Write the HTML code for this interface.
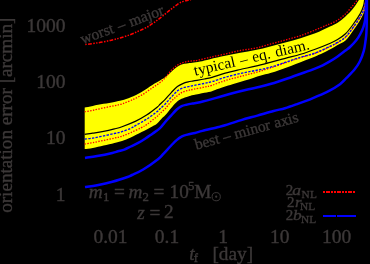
<!DOCTYPE html>
<html><head><meta charset="utf-8"><title>chart</title>
<style>
html,body{margin:0;padding:0;background:#000;}
body{width:370px;height:264px;overflow:hidden;}
svg{display:block;will-change:transform;}
text{font-family:"Liberation Serif",serif;fill:#3c3838;stroke:#3c3838;stroke-width:0.36px;}
.i{font-style:italic;}
</style></head><body>
<svg width="370" height="264" viewBox="0 0 370 264">
<rect width="370" height="264" fill="#000"/>
<path d="M84.70,107.40 C86.05,107.15 89.65,106.50 92.80,105.90 C95.95,105.30 100.00,104.47 103.60,103.80 C107.20,103.13 111.33,102.48 114.40,101.90 C117.47,101.32 119.27,101.07 122.00,100.30 C124.73,99.53 127.53,98.70 130.80,97.30 C134.07,95.90 138.00,93.97 141.60,91.90 C145.20,89.83 149.33,86.78 152.40,84.90 C155.47,83.02 157.83,81.90 160.00,80.60 C162.17,79.30 163.60,78.50 165.40,77.10 C167.20,75.70 169.00,73.82 170.80,72.20 C172.60,70.58 174.40,68.70 176.20,67.40 C178.00,66.10 179.80,65.07 181.60,64.40 C183.40,63.73 185.20,63.68 187.00,63.40 C188.80,63.12 190.23,63.00 192.40,62.70 C194.57,62.40 197.07,62.18 200.00,61.60 C202.93,61.02 205.80,60.17 210.00,59.20 C214.20,58.23 220.15,56.87 225.20,55.80 C230.25,54.73 235.25,53.77 240.30,52.80 C245.35,51.83 250.52,51.07 255.50,50.00 C260.48,48.93 265.23,47.67 270.20,46.40 C275.17,45.13 280.25,43.77 285.30,42.40 C290.35,41.03 295.52,39.72 300.50,38.20 C305.48,36.68 310.28,35.25 315.20,33.30 C320.12,31.35 326.27,28.27 330.00,26.50 C333.73,24.73 335.07,24.33 337.60,22.70 C340.13,21.07 342.68,18.97 345.20,16.70 C347.72,14.43 350.57,11.63 352.70,9.10 C354.83,6.57 356.87,3.18 358.00,1.50 C359.13,-0.18 359.25,-0.58 359.50,-1.00 L366.70,-1.00 C366.65,-0.50 366.72,0.17 366.40,2.00 C366.08,3.83 365.73,7.17 364.80,10.00 C363.87,12.83 362.73,15.58 360.80,19.00 C358.87,22.42 355.75,26.92 353.20,30.50 C350.65,34.08 348.10,38.08 345.50,40.50 C342.90,42.92 340.13,43.55 337.60,45.00 C335.07,46.45 334.03,47.28 330.30,49.20 C326.57,51.12 319.65,54.55 315.20,56.50 C310.75,58.45 308.23,59.12 303.60,60.90 C298.97,62.68 292.80,65.22 287.40,67.20 C282.00,69.18 275.77,71.37 271.20,72.80 C266.63,74.23 263.77,74.68 260.00,75.80 C256.23,76.92 253.18,78.08 248.60,79.50 C244.02,80.92 237.90,82.63 232.50,84.30 C227.10,85.97 219.62,88.35 216.20,89.50 C212.78,90.65 213.97,90.65 212.00,91.20 C210.03,91.75 207.47,92.15 204.40,92.80 C201.33,93.45 196.30,94.50 193.60,95.10 C190.90,95.70 190.20,95.78 188.20,96.40 C186.20,97.02 183.60,97.80 181.60,98.80 C179.60,99.80 178.00,100.80 176.20,102.40 C174.40,104.00 172.63,106.25 170.80,108.40 C168.97,110.55 166.63,113.70 165.20,115.30 C163.77,116.90 163.50,116.68 162.20,118.00 C160.90,119.32 159.07,121.78 157.40,123.20 C155.73,124.62 154.83,125.02 152.20,126.50 C149.57,127.98 145.17,130.27 141.60,132.10 C138.03,133.93 134.07,136.03 130.80,137.50 C127.53,138.97 124.73,140.00 122.00,140.90 C119.27,141.80 117.47,142.12 114.40,142.90 C111.33,143.68 107.20,144.75 103.60,145.60 C100.00,146.45 95.95,147.42 92.80,148.00 C89.65,148.58 86.05,148.92 84.70,149.10 Z" fill="#ffff00" stroke="none"/>
<path d="M84.70,134.30 C86.05,134.12 89.65,133.68 92.80,133.20 C95.95,132.72 100.00,132.12 103.60,131.40 C107.20,130.68 111.33,129.68 114.40,128.90 C117.47,128.12 118.43,128.00 122.00,126.70 C125.57,125.40 131.70,123.03 135.80,121.10 C139.90,119.17 143.00,117.45 146.60,115.10 C150.20,112.75 155.17,108.80 157.40,107.00 C159.63,105.20 158.70,105.58 160.00,104.30 C161.30,103.02 163.28,101.30 165.20,99.30 C167.12,97.30 169.47,94.42 171.50,92.30 C173.53,90.18 175.52,88.05 177.40,86.60 C179.28,85.15 181.00,84.38 182.80,83.60 C184.60,82.82 186.40,82.35 188.20,81.90 C190.00,81.45 190.90,81.38 193.60,80.90 C196.30,80.42 201.33,79.60 204.40,79.00 C207.47,78.40 208.53,78.28 212.00,77.30 C215.47,76.32 220.48,74.40 225.20,73.10 C229.92,71.80 235.25,70.65 240.30,69.50 C245.35,68.35 250.52,67.38 255.50,66.20 C260.48,65.02 265.23,63.72 270.20,62.40 C275.17,61.08 280.25,59.65 285.30,58.30 C290.35,56.95 295.52,55.82 300.50,54.30 C305.48,52.78 310.23,51.05 315.20,49.20 C320.17,47.35 326.57,44.82 330.30,43.20 C334.03,41.58 335.07,41.08 337.60,39.50 C340.13,37.92 342.98,36.12 345.50,33.70 C348.02,31.28 350.23,28.35 352.70,25.00 C355.17,21.65 358.50,16.77 360.30,13.60 C362.10,10.43 362.75,8.43 363.50,6.00 C364.25,3.57 364.58,0.17 364.80,-1.00" fill="none" stroke="#000" stroke-width="1.2"/>
<path d="M84.70,111.70 C86.05,111.47 89.65,110.93 92.80,110.30 C95.95,109.67 100.00,108.67 103.60,107.90 C107.20,107.13 111.33,106.37 114.40,105.70 C117.47,105.03 119.27,104.77 122.00,103.90 C124.73,103.03 127.53,101.97 130.80,100.50 C134.07,99.03 138.00,97.22 141.60,95.10 C145.20,92.98 149.33,89.88 152.40,87.80 C155.47,85.72 157.83,84.30 160.00,82.60 C162.17,80.90 163.60,79.57 165.40,77.60 C167.20,75.63 169.00,72.73 170.80,70.80 C172.60,68.87 174.40,67.28 176.20,66.00 C178.00,64.72 179.80,63.83 181.60,63.10 C183.40,62.37 185.20,61.97 187.00,61.60 C188.80,61.23 190.60,61.13 192.40,60.90 C194.20,60.67 194.87,60.80 197.80,60.20 C200.73,59.60 205.43,58.33 210.00,57.30 C214.57,56.27 220.15,55.13 225.20,54.00 C230.25,52.87 235.25,51.48 240.30,50.50 C245.35,49.52 250.52,49.17 255.50,48.10 C260.48,47.03 265.23,45.45 270.20,44.10 C275.17,42.75 280.25,41.40 285.30,40.00 C290.35,38.60 295.52,37.37 300.50,35.70 C305.48,34.03 310.98,31.70 315.20,30.00 C319.42,28.30 323.33,26.52 325.80,25.50 C328.27,24.48 328.03,24.78 330.00,23.90 C331.97,23.02 335.07,21.83 337.60,20.20 C340.13,18.57 342.68,16.52 345.20,14.10 C347.72,11.68 350.82,7.85 352.70,5.70 C354.58,3.55 355.70,2.37 356.50,1.20 C357.30,0.03 357.33,-0.88 357.50,-1.30" fill="none" stroke="#ff0000" stroke-width="1.3" stroke-dasharray="1.4,1.4"/>
<path d="M84.70,144.00 C86.05,143.77 89.65,143.20 92.80,142.60 C95.95,142.00 100.00,141.15 103.60,140.40 C107.20,139.65 111.33,138.80 114.40,138.10 C117.47,137.40 119.27,137.12 122.00,136.20 C124.73,135.28 127.57,134.03 130.80,132.60 C134.03,131.17 138.73,128.95 141.40,127.60 C144.07,126.25 144.13,126.40 146.80,124.50 C149.47,122.60 155.20,118.03 157.40,116.20 C159.60,114.37 158.70,114.73 160.00,113.50 C161.30,112.27 163.40,110.73 165.20,108.80 C167.00,106.87 168.97,103.92 170.80,101.90 C172.63,99.88 174.30,98.30 176.20,96.70 C178.10,95.10 180.20,93.35 182.20,92.30 C184.20,91.25 186.30,90.90 188.20,90.40 C190.10,89.90 190.90,89.85 193.60,89.30 C196.30,88.75 201.33,87.77 204.40,87.10 C207.47,86.43 208.53,86.38 212.00,85.30 C215.47,84.22 220.48,82.07 225.20,80.60 C229.92,79.13 235.25,77.85 240.30,76.50 C245.35,75.15 250.52,73.92 255.50,72.50 C260.48,71.08 265.23,69.62 270.20,68.00 C275.17,66.38 280.25,64.53 285.30,62.80 C290.35,61.07 295.52,59.18 300.50,57.60 C305.48,56.02 310.23,55.13 315.20,53.30 C320.17,51.47 326.57,48.37 330.30,46.60 C334.03,44.83 335.07,44.25 337.60,42.70 C340.13,41.15 342.98,39.70 345.50,37.30 C348.02,34.90 350.23,31.68 352.70,28.30 C355.17,24.92 358.42,20.15 360.30,17.00 C362.18,13.85 363.12,11.93 364.00,9.40 C364.88,6.87 365.28,3.53 365.60,1.80 C365.92,0.07 365.85,-0.53 365.90,-1.00" fill="none" stroke="#ff0000" stroke-width="1.3" stroke-dasharray="1.4,1.4"/>
<path d="M84.70,139.10 C86.05,138.93 89.65,138.63 92.80,138.10 C95.95,137.57 100.00,136.67 103.60,135.90 C107.20,135.13 111.33,134.22 114.40,133.50 C117.47,132.78 119.27,132.47 122.00,131.60 C124.73,130.73 128.50,129.33 130.80,128.30 C133.10,127.27 133.17,126.92 135.80,125.40 C138.43,123.88 143.00,121.53 146.60,119.20 C150.20,116.87 155.17,113.13 157.40,111.40 C159.63,109.67 158.70,110.03 160.00,108.80 C161.30,107.57 163.30,105.97 165.20,104.00 C167.10,102.03 169.37,99.18 171.40,97.00 C173.43,94.82 175.50,92.40 177.40,90.90 C179.30,89.40 181.00,88.72 182.80,88.00 C184.60,87.28 186.40,87.02 188.20,86.60 C190.00,86.18 190.90,86.03 193.60,85.50 C196.30,84.97 201.33,84.05 204.40,83.40 C207.47,82.75 208.53,82.62 212.00,81.60 C215.47,80.58 220.48,78.65 225.20,77.30 C229.92,75.95 235.25,74.63 240.30,73.50 C245.35,72.37 250.52,71.53 255.50,70.50 C260.48,69.47 265.23,68.67 270.20,67.30 C275.17,65.93 280.25,63.97 285.30,62.30 C290.35,60.63 295.52,58.85 300.50,57.30 C305.48,55.75 310.23,54.85 315.20,53.00 C320.17,51.15 326.57,47.98 330.30,46.20 C334.03,44.42 335.07,43.83 337.60,42.30 C340.13,40.77 342.98,39.38 345.50,37.00 C348.02,34.62 350.23,31.38 352.70,28.00 C355.17,24.62 358.42,19.85 360.30,16.70 C362.18,13.55 363.12,11.63 364.00,9.10 C364.88,6.57 365.28,3.18 365.60,1.50 C365.92,-0.18 365.85,-0.58 365.90,-1.00" fill="none" stroke="#0000ff" stroke-width="1.35" stroke-dasharray="2.4,1.3"/>
<path d="M85.00,157.90 C87.03,157.60 92.65,156.92 97.20,156.10 C101.75,155.28 108.83,153.80 112.30,153.00 C115.77,152.20 115.98,151.87 118.00,151.30 C120.02,150.73 122.27,150.40 124.40,149.60 C126.53,148.80 127.93,147.93 130.80,146.50 C133.67,145.07 138.00,143.13 141.60,141.00 C145.20,138.87 149.33,135.83 152.40,133.70 C155.47,131.57 157.90,130.12 160.00,128.20 C162.10,126.28 163.20,124.25 165.00,122.20 C166.80,120.15 168.93,117.93 170.80,115.90 C172.67,113.87 174.40,111.62 176.20,110.00 C178.00,108.38 179.80,107.10 181.60,106.20 C183.40,105.30 185.20,105.05 187.00,104.60 C188.80,104.15 190.23,103.90 192.40,103.50 C194.57,103.10 196.03,103.13 200.00,102.20 C203.97,101.27 210.80,99.40 216.20,97.90 C221.60,96.40 227.00,94.65 232.40,93.20 C237.80,91.75 244.00,90.27 248.60,89.20 C253.20,88.13 256.23,87.70 260.00,86.80 C263.77,85.90 266.63,85.18 271.20,83.80 C275.77,82.42 282.00,80.33 287.40,78.50 C292.80,76.67 299.00,74.45 303.60,72.80 C308.20,71.15 311.82,69.85 315.00,68.60 C318.18,67.35 320.15,66.53 322.70,65.30 C325.25,64.07 327.82,62.67 330.30,61.20 C332.78,59.73 335.07,58.28 337.60,56.50 C340.13,54.72 343.43,52.08 345.50,50.50 C347.57,48.92 348.17,48.75 350.00,47.00 C351.83,45.25 354.78,42.17 356.50,40.00 C358.22,37.83 359.17,36.12 360.30,34.00 C361.43,31.88 362.48,29.68 363.30,27.30 C364.12,24.92 364.75,22.75 365.20,19.70 C365.65,16.65 365.82,12.45 366.00,9.00 C366.18,5.55 366.25,0.67 366.30,-1.00" fill="none" stroke="#0000ff" stroke-width="2.5"/>
<path d="M85.00,187.10 C87.03,186.78 92.65,186.08 97.20,185.20 C101.75,184.32 107.25,183.17 112.30,181.80 C117.35,180.43 124.22,178.13 127.50,177.00 C130.78,175.87 129.38,176.25 132.00,175.00 C134.62,173.75 138.82,172.18 143.20,169.50 C147.58,166.82 154.90,161.55 158.30,158.90 C161.70,156.25 161.45,155.83 163.60,153.60 C165.75,151.37 169.03,147.75 171.20,145.50 C173.37,143.25 174.80,141.63 176.60,140.10 C178.40,138.57 180.20,137.22 182.00,136.30 C183.80,135.38 185.23,135.15 187.40,134.60 C189.57,134.05 192.50,133.62 195.00,133.00 C197.50,132.38 198.47,131.90 202.40,130.90 C206.33,129.90 214.83,127.95 218.60,127.00 C222.37,126.05 221.23,126.35 225.00,125.20 C228.77,124.05 235.80,121.70 241.20,120.10 C246.60,118.50 252.00,117.12 257.40,115.60 C262.80,114.08 269.00,112.23 273.60,111.00 C278.20,109.77 281.23,109.30 285.00,108.20 C288.77,107.10 291.63,106.05 296.20,104.40 C300.77,102.75 307.00,100.52 312.40,98.30 C317.80,96.08 324.00,93.45 328.60,91.10 C333.20,88.75 337.02,86.40 340.00,84.20 C342.98,82.00 344.08,80.35 346.50,77.90 C348.92,75.45 352.28,72.23 354.50,69.50 C356.72,66.77 358.25,64.60 359.80,61.50 C361.35,58.40 362.83,54.43 363.80,50.90 C364.77,47.37 365.17,43.28 365.60,40.30 C366.03,37.32 366.20,36.38 366.40,33.00 C366.60,29.62 366.72,25.67 366.80,20.00 C366.88,14.33 366.88,2.50 366.90,-1.00" fill="none" stroke="#0000ff" stroke-width="2.5"/>
<path d="M85.30,44.50 C87.42,44.22 93.82,43.48 98.00,42.80 C102.18,42.12 106.73,41.20 110.40,40.40 C114.07,39.60 116.73,38.93 120.00,38.00 C123.27,37.07 126.98,35.92 130.00,34.80 C133.02,33.68 135.40,32.50 138.10,31.30 C140.80,30.10 143.50,29.08 146.20,27.60 C148.90,26.12 151.60,24.30 154.30,22.40 C157.00,20.50 159.70,18.32 162.40,16.20 C165.10,14.08 167.80,11.80 170.50,9.70 C173.20,7.60 176.43,5.00 178.60,3.60 C180.77,2.20 181.88,1.85 183.50,1.30 C185.12,0.75 187.05,0.55 188.30,0.30 C189.55,0.05 190.55,-0.12 191.00,-0.20" fill="none" stroke="#ff0000" stroke-width="1.5" stroke-dasharray="3.7,1.4,1.5,1.35,1.5,1.35" stroke-dashoffset="7.95"/>

<!-- y tick labels -->
<g font-size="19.5" text-anchor="end">
<text x="65.6" y="31.6">1000</text>
<text x="65.6" y="88">100</text>
<text x="65.6" y="144.4">10</text>
<text x="65.6" y="200.7">1</text>
</g>
<!-- x tick labels -->
<g font-size="19.5" text-anchor="middle">
<text x="110.5" y="242.6">0.01</text>
<text x="167" y="242.6">0.1</text>
<text x="223.2" y="242.6">1</text>
<text x="279.7" y="242.6">10</text>
<text x="336.5" y="242.6">100</text>
</g>
<text transform="translate(12.2,212.8) rotate(-90)" font-size="19.12">orientation error [arcmin]</text>
<text x="189.2" y="260" font-size="19.3" class="i">t</text>
<text x="193.8" y="261.7" font-size="12.8">f</text>
<text x="212.4" y="260" font-size="19.3">[day]</text>
<g font-size="19.3">
<text x="88.8" y="197.5" class="i">m</text>
<text x="103" y="201" font-size="12.8">1</text>
<text x="113.9" y="197.5">=</text>
<text x="128.5" y="197.5" class="i">m</text>
<text x="142.6" y="201" font-size="12.8">2</text>
<text x="153.4" y="197.5">=</text>
<text x="169.5" y="197.7">10</text>
<text x="188" y="190.4" font-size="12.8">5</text>
<text x="194.2" y="197.7">M</text>
<text x="137.3" y="218.6" class="i">z</text>
<text x="149.4" y="218.6">=</text>
<text x="164" y="218">2</text>
</g>
<circle cx="216.2" cy="196.7" r="4.1" fill="none" stroke="#3c3838" stroke-width="1"/>
<circle cx="216.2" cy="196.7" r="1.1" fill="#3c3838"/>

<!-- legend -->
<g font-size="15">
<text x="285.7" y="195.1">2</text>
<text transform="translate(292.2,195.1) scale(1.18,1)" class="i">a</text>
<text x="301.6" y="197.7" font-size="11.3" letter-spacing="0.2">NL</text>
<text x="287" y="207.4">2</text>
<text transform="translate(295.1,207.4) scale(1.12,1)" class="i">r</text>
<text x="300" y="210" font-size="11.3" letter-spacing="0.2">NL</text>
<text x="285.7" y="220.3">2</text>
<text transform="translate(292.9,220.3) scale(1.15,1)" class="i">b</text>
<text x="301" y="222.5" font-size="11.3" letter-spacing="0.2">NL</text>
</g>
<path d="M323,191h2v2h-2z M326,191h4v2h-4z M331,191h2v2h-2z M334,191h2v2h-2z M337,191h4v2h-4z M342,191h2v2h-2z M345,191h2v2h-2z M348,191h4v2h-4z M353,191h2v2h-2z" fill="#ff0000" shape-rendering="crispEdges"/>
<path d="M323,215h13v2h-13z M337,215h19v2h-19z" fill="#0000ff" shape-rendering="crispEdges"/>

<!-- curve labels -->
<g font-size="15.5" word-spacing="1.4">
<text transform="translate(82.5,44.3) rotate(-20)" word-spacing="0.8">worst – major</text>
<text transform="translate(195,75.8) rotate(-13)" word-spacing="1.1" style="fill:#000;stroke:none">typical – eq. diam.</text>
<text transform="translate(196.2,149.7) rotate(-15.3)" word-spacing="0.2">best – minor axis</text>
</g>
</svg>
</body></html>
